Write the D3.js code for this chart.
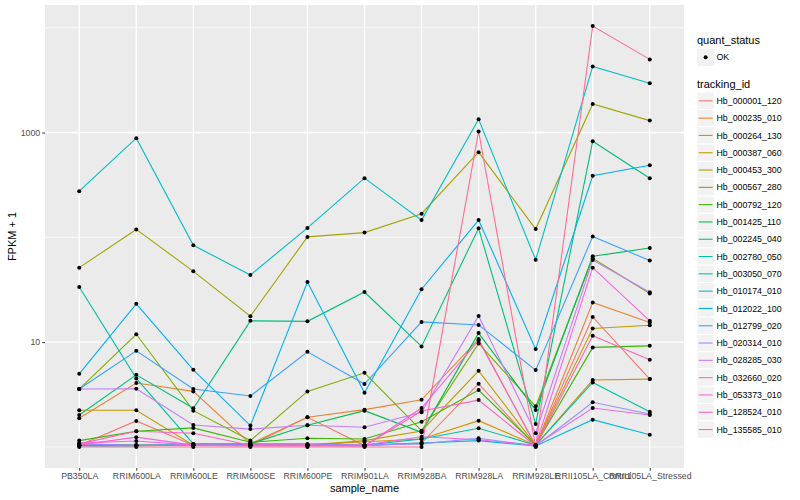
<!DOCTYPE html>
<html>
<head>
<meta charset="utf-8">
<script src="https://cdn.jsdelivr.net/npm/d3@7"></script>
<style>
  html, body { margin: 0; padding: 0; background: #ffffff; }
  svg text { font-family: "Liberation Sans", Arial, Helvetica, sans-serif; }
</style>
</head>
<body>
<svg id="chart" width="800" height="500"></svg>
<script>
// ---- data (FPKM + 1) ----
const categories = ["PB350LA","RRIM600LA","RRIM600LE","RRIM600SE","RRIM600PE","RRIM901LA","RRIM928BA","RRIM928LA","RRIM928LE","RRII105LA_Control","RRII105LA_Stressed"];
const trackingIds = ["Hb_000001_120","Hb_000235_010","Hb_000264_130","Hb_000387_060","Hb_000453_300","Hb_000567_280","Hb_000792_120","Hb_001425_110","Hb_002245_040","Hb_002780_050","Hb_003050_070","Hb_010174_010","Hb_012022_100","Hb_012799_020","Hb_020314_010","Hb_028285_030","Hb_032660_020","Hb_053373_010","Hb_128524_010","Hb_135585_010"];
const seriesColors = ["#F8766D","#EA8331","#D89000","#C09B00","#A3A500","#7CAE00","#39B600","#00BB4E","#00BF7D","#00C1A3","#00BFC4","#00BAE0","#00B0F6","#35A2FF","#9590FF","#C77CFF","#E76BF3","#FA62DB","#FF62BC","#FF6C91"];

const hb000001_120 = [1.04, 1.77, 1.04, 1.04, 1.92, 1.03, 1.09, 4.01, 1.02, 17.4, 4.44];
const hb000235_010 = [1.88, 4.07, 3.39, 1.07, 1.92, 2.27, 2.82, 10.7, 1.02, 23.9, 15.4];
const hb000264_130 = [1.04, 1.04, 1.04, 1.04, 1.04, 1.12, 1.19, 1.78, 1.04, 4.35, 4.44];
const hb000387_060 = [2.24, 2.24, 1.04, 1.04, 1.04, 1.15, 1.42, 5.33, 1.04, 13.5, 14.5];
const hb000453_300 = [51.4, 119, 47.4, 17.7, 101, 111, 168, 649, 120, 1876, 1300];
const hb000567_280 = [3.57, 11.9, 2.22, 1.15, 3.39, 5.10, 1.43, 9.72, 2.44, 63.1, 29.1];
const hb000792_120 = [1.15, 1.41, 1.52, 1.11, 1.21, 1.19, 1.74, 3.49, 1.04, 8.91, 9.22];
const hb001425_110 = [1.04, 1.04, 1.04, 1.07, 1.61, 2.22, 1.38, 12.2, 2.25, 65.9, 79.1];
const hb002245_040 = [2.02, 4.88, 2.34, 15.96, 15.8, 30.1, 9.10, 122, 1.66, 826, 367];
const hb002780_050 = [33.6, 4.51, 1.07, 1.04, 1.04, 1.04, 1.19, 1.51, 1.04, 4.13, 2.17];
const hb003050_070 = [276, 883, 84, 43.7, 123, 367, 146, 1339, 61, 4276, 2950];
const hb010174_010 = [1.02, 1.02, 1.07, 1.07, 1.07, 1.04, 1.09, 1.15, 1.02, 1.82, 1.31];
const hb012022_100 = [4.99, 23.2, 5.45, 1.60, 37.5, 3.29, 32, 146, 8.58, 387, 488];
const hb012799_020 = [3.57, 8.26, 3.57, 3.06, 8.09, 3.98, 15.6, 14.6, 5.41, 102, 60];
const hb020314_010 = [1.07, 1.04, 1.04, 1.04, 1.04, 1.04, 1.07, 1.21, 1.02, 2.67, 2.06];
const hb028285_030 = [3.57, 3.59, 1.62, 1.48, 1.61, 1.54, 2.14, 17.8, 1.35, 60.8, 29.9];
const hb032660_020 = [1.09, 1.14, 1.04, 1.04, 1.04, 1.04, 1.25, 1.17, 1.04, 2.35, 2.02];
const hb053373_010 = [1.04, 1.24, 1.04, 1.02, 1.02, 1.02, 2.35, 10.4, 1.04, 51.4, 15.96];
const hb128524_010 = [1.07, 1.41, 1.35, 1.04, 1.04, 1.02, 2.20, 2.80, 1.02, 11.5, 6.78];
const hb135585_010 = [1, 1, 1, 1, 1, 1, 1, 1023, 1, 10380, 4990];

const seriesValues = [hb000001_120, hb000235_010, hb000264_130, hb000387_060, hb000453_300, hb000567_280, hb000792_120, hb001425_110, hb002245_040, hb002780_050, hb003050_070, hb010174_010, hb012022_100, hb012799_020, hb020314_010, hb028285_030, hb032660_020, hb053373_010, hb128524_010, hb135585_010];

const yMajorTicks = [10, 1000];
const yMinorTicks = [1, 100, 10000];

// ---- layout ----
const svg = d3.select("#chart");
const panel = { left: 45, right: 684, top: 5, bottom: 468 };

const x = d3.scalePoint().domain(categories).range([panel.left, panel.right]).padding(0.6);

const allVals = seriesValues.flat();
const lmin = Math.log10(d3.min(allVals)), lmax = Math.log10(d3.max(allVals));
const pad = (lmax - lmin) * 0.05;
const y = d3.scaleLog().domain([Math.pow(10, lmin - pad), Math.pow(10, lmax + pad)]).range([panel.bottom, panel.top]);

// panel background
svg.append("rect").attr("x", panel.left).attr("y", panel.top)
  .attr("width", panel.right - panel.left).attr("height", panel.bottom - panel.top)
  .attr("fill", "#EBEBEB");

// grid
const grid = svg.append("g");
grid.selectAll(".minor").data(yMinorTicks).join("line")
  .attr("x1", panel.left).attr("x2", panel.right)
  .attr("y1", d => y(d)).attr("y2", d => y(d))
  .attr("stroke", "#ffffff").attr("stroke-width", 0.7);
grid.selectAll(".major").data(yMajorTicks).join("line")
  .attr("x1", panel.left).attr("x2", panel.right)
  .attr("y1", d => y(d)).attr("y2", d => y(d))
  .attr("stroke", "#ffffff").attr("stroke-width", 1.4);
grid.selectAll(".vmajor").data(categories).join("line")
  .attr("x1", d => x(d)).attr("x2", d => x(d))
  .attr("y1", panel.top).attr("y2", panel.bottom)
  .attr("stroke", "#ffffff").attr("stroke-width", 1.4);

// lines
const line = d3.line().x((d, i) => x(categories[i])).y(d => y(d));
svg.append("g").selectAll("path").data(seriesValues).join("path")
  .attr("d", d => line(d))
  .attr("fill", "none")
  .attr("stroke", (d, i) => seriesColors[i])
  .attr("stroke-width", 1.1);

// points
const pts = [];
seriesValues.forEach(s => s.forEach((v, i) => pts.push([categories[i], v])));
svg.append("g").selectAll("circle").data(pts).join("circle")
  .attr("cx", d => x(d[0])).attr("cy", d => y(d[1])).attr("r", 2)
  .attr("fill", "#000000");

// axes
const xAxis = d3.axisBottom(x).tickSize(2.75).tickPadding(2);
const gx = svg.append("g").attr("transform", `translate(0,${panel.bottom})`).call(xAxis);
gx.select(".domain").remove();
gx.selectAll(".tick line").attr("stroke", "#333333").attr("stroke-width", 1);
gx.selectAll(".tick text").attr("fill", "#4D4D4D").attr("font-size", "8.8px");

const yAxis = d3.axisLeft(y).tickValues(yMajorTicks).tickFormat(d3.format("d")).tickSize(2.75).tickPadding(2);
const gy = svg.append("g").attr("transform", `translate(${panel.left},0)`).call(yAxis);
gy.select(".domain").remove();
gy.selectAll(".tick line").attr("stroke", "#333333").attr("stroke-width", 1);
gy.selectAll(".tick text").attr("fill", "#4D4D4D").attr("font-size", "8.8px");

// axis titles
svg.append("text").attr("x", (panel.left + panel.right) / 2).attr("y", 492)
  .attr("text-anchor", "middle").attr("font-size", "11px").attr("fill", "#000").text("sample_name");
svg.append("text").attr("transform", `translate(16,${(panel.top + panel.bottom) / 2}) rotate(-90)`)
  .attr("text-anchor", "middle").attr("font-size", "11px").attr("fill", "#000").text("FPKM + 1");

// legends
const lg = svg.append("g");
const keyX = 697, keyW = 17.3, keyH = 17.3;
lg.append("text").attr("x", keyX).attr("y", 44).attr("font-size", "11px").attr("fill", "#000").text("quant_status");
lg.append("rect").attr("x", keyX).attr("y", 48.7).attr("width", keyW).attr("height", keyH).attr("fill", "#F2F2F2");
lg.append("circle").attr("cx", keyX + keyW / 2).attr("cy", 48.7 + keyH / 2).attr("r", 2).attr("fill", "#000");
lg.append("text").attr("x", 716.5).attr("y", 48.7 + keyH / 2 + 3.1).attr("font-size", "8.8px").attr("fill", "#000").text("OK");

lg.append("text").attr("x", keyX).attr("y", 88).attr("font-size", "11px").attr("fill", "#000").text("tracking_id");
const keys = lg.selectAll(".key").data(trackingIds).join("g")
  .attr("transform", (d, i) => `translate(${keyX},${92.2 + i * keyH})`);
keys.append("rect").attr("width", keyW).attr("height", keyH).attr("fill", "#F2F2F2")
  .attr("stroke", "#ffffff").attr("stroke-width", 1);
keys.append("line").attr("x1", 1.7).attr("x2", keyW - 1.7).attr("y1", keyH / 2).attr("y2", keyH / 2)
  .attr("stroke", (d, i) => seriesColors[i]).attr("stroke-width", 1.1);
keys.append("text").attr("x", 19.5).attr("y", keyH / 2 + 3.1).attr("font-size", "8.8px").attr("fill", "#000").text(d => d);
</script>
</body>
</html>
